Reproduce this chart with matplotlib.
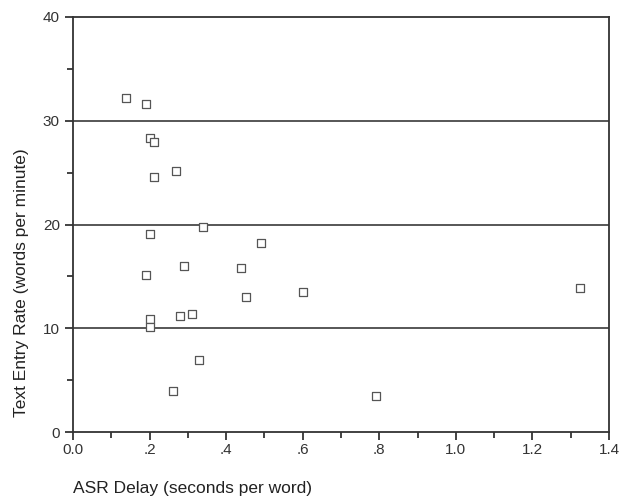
import numpy as np
import matplotlib
matplotlib.use("Agg")
import matplotlib.pyplot as plt
from matplotlib.ticker import MultipleLocator

# ASR delay (s/word) vs text entry rate (wpm)
asr_delay = [0.139, 0.190, 0.200, 0.212, 0.212, 0.268, 0.200, 0.340, 0.492,
             0.190, 0.289, 0.440, 0.452, 0.602, 0.200, 0.200, 0.279, 0.311,
             0.329, 0.261, 0.792, 1.323]
entry_rate = [32.2, 31.6, 28.3, 27.95, 24.6, 25.2, 19.1, 19.8, 18.2,
              15.1, 16.0, 15.8, 13.0, 13.5, 10.9, 10.1, 11.15, 11.4,
              6.9, 4.0, 3.5, 13.9]

x_ticks = [0.0, 0.2, 0.4, 0.6, 0.8, 1.0, 1.2, 1.4]
x_labels = ["0.0", ".2", ".4", ".6", ".8", "1.0", "1.2", "1.4"]
y_ticks = [0, 10, 20, 30, 40]

plt.rcParams['font.family'] = ['Liberation Sans', 'DejaVu Sans']

fig = plt.figure(figsize=(6.21, 5.04), dpi=100)
ax = fig.add_axes([73/621, 72/504, 536/621, 415/504])

for yv in [10, 20, 30]:
    ax.axhline(yv, color='#3a3a3a', lw=1.2, zorder=1)

ax.scatter(asr_delay, entry_rate, marker='s', s=26, facecolors='white',
           edgecolors='#555555', linewidths=0.9, zorder=3)

ax.set_xlim(0, 1.4)
ax.set_ylim(0, 40)
ax.set_xticks(x_ticks)
ax.set_xticklabels(x_labels)
ax.set_yticks(y_ticks)
ax.xaxis.set_minor_locator(MultipleLocator(0.1))
ax.yaxis.set_minor_locator(MultipleLocator(5))
ax.tick_params(which='both', direction='out', color='#222222', width=1.2)
ax.tick_params(which='major', length=6, labelsize=11, labelcolor='#333333')
ax.tick_params(which='minor', length=4)
ax.tick_params(axis='x', pad=2)
for sp in ax.spines.values():
    sp.set_color('#333333')
    sp.set_linewidth(1.3)

fig.text(73/621, 1 - 488/504, "ASR Delay (seconds per word)", ha='left',
         va='center', fontsize=12.5, color='#222222')
fig.text(22/621, 1 - 283/504, "Text Entry Rate (words per minute)",
         rotation=90, ha='center', va='center', fontsize=12.5, color='#222222')

fig.savefig("out.png", dpi=100)
